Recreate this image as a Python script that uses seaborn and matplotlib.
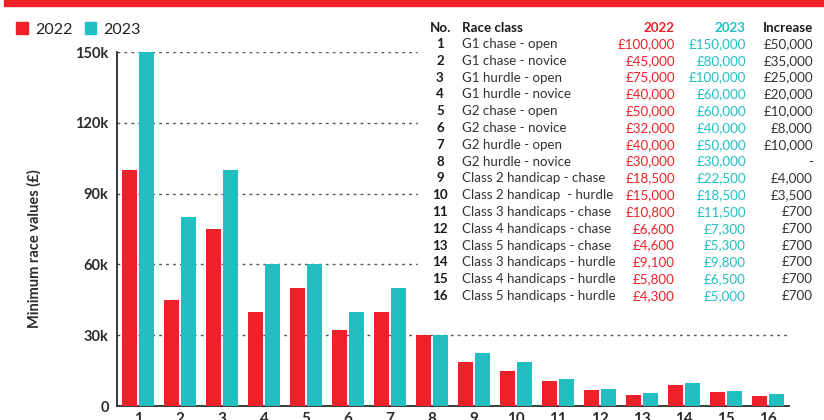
"""
Minimum race values 2022 vs 2023 - grouped bars with a lookup table.
"""
import matplotlib
matplotlib.use("Agg")
import matplotlib.pyplot as plt
import matplotlib.patches as mpatches
from matplotlib.ticker import FixedLocator, FuncFormatter
import pandas as pd
import seaborn as sns

RED = "#EE2129"
TEAL = "#22BEC2"
DARK = "#2B2B2B"

race_no = [str(i) for i in range(1, 17)]
race_class = [
    "G1 chase - open", "G1 chase - novice", "G1 hurdle - open", "G1 hurdle - novice",
    "G2 chase - open", "G2 chase - novice", "G2 hurdle - open", "G2 hurdle - novice",
    "Class 2 handicap - chase", "Class 2 handicap  - hurdle",
    "Class 3 handicaps - chase", "Class 4 handicaps - chase", "Class 5 handicaps - chase",
    "Class 3 handicaps - hurdle", "Class 4 handicaps - hurdle", "Class 5 handicaps - hurdle",
]
values_2022 = [100000, 45000, 75000, 40000, 50000, 32000, 40000, 30000,
               18500, 15000, 10800, 6600, 4600, 9100, 5800, 4300]
values_2023 = [150000, 80000, 100000, 60000, 60000, 40000, 50000, 30000,
               22500, 18500, 11500, 7300, 5300, 9800, 6500, 5000]
increase = ["£50,000", "£35,000", "£25,000", "£20,000", "£10,000", "£8,000", "£10,000", "-",
            "£4,000", "£3,500", "£700", "£700", "£700", "£700", "£700", "£700"]
y_ticks = [0, 30000, 60000, 90000, 120000, 150000]

df = pd.DataFrame({
    "no": race_no * 2,
    "value": values_2022 + values_2023,
    "year": ["2022"] * 16 + ["2023"] * 16,
})

sns.set_style("white")
plt.rcParams["font.family"] = ["Lato", "DejaVu Sans"]

fig = plt.figure(figsize=(8.24, 4.2), dpi=100)
ax = fig.add_axes([117 / 824, 14 / 420, 672 / 824, 354 / 420])

sns.barplot(data=df, x="no", y="value", hue="year", order=race_no,
            palette={"2022": RED, "2023": TEAL}, saturation=1, width=0.78, gap=0.1,
            linewidth=0, ax=ax, legend=False, zorder=3)
for p in ax.patches:
    p.set_clip_on(False)

ax.set_xlim(-0.5, 15.5)
ax.set_ylim(0, 150000)
ax.set_yticks(y_ticks)
ax.yaxis.set_major_formatter(FuncFormatter(lambda v, _: "0" if v == 0 else f"{int(v / 1000)}k"))
for t in y_ticks[1:]:
    ax.axhline(t, color="#555555", lw=1.0, ls=(0, (2, 3)), zorder=1)

for side in ["top", "right"]:
    ax.spines[side].set_visible(False)
for side in ["left", "bottom"]:
    ax.spines[side].set_color(DARK)
    ax.spines[side].set_linewidth(1.3)

ax.tick_params(axis="y", direction="out", length=4, width=1.2, color=DARK,
               labelsize=10.5, labelcolor=DARK, pad=2)
ax.tick_params(axis="x", which="major", length=0, labelsize=11, labelcolor=DARK, pad=4.5)
for lab in ax.get_yticklabels() + ax.get_xticklabels():
    lab.set_fontweight("bold")
ax.xaxis.set_minor_locator(FixedLocator([3.5, 7.5, 11.5, 15.5]))
ax.tick_params(axis="x", which="minor", direction="in", length=7, width=1.2, color=DARK)

ax.set_xlabel("")
ax.set_ylabel("Minimum race values (£)", fontsize=10.5, fontweight="bold", color=DARK)
ax.yaxis.set_label_coords(-0.112, 0.445)

# top red band
fig.patches.append(mpatches.Rectangle((4 / 824, 1 - 6 / 420), 1, 6 / 420,
                                      transform=fig.transFigure, color=RED, zorder=5))

# legend
handles = [mpatches.Patch(color=RED, label="2022"), mpatches.Patch(color=TEAL, label="2023")]
fig.legend(handles=handles, loc="upper left", bbox_to_anchor=(2 / 824, 1 - 8 / 420),
           ncol=2, frameon=False, fontsize=11.5, handlelength=0.7, handleheight=0.7,
           handletextpad=0.45, columnspacing=0.8, labelcolor="#222222")

# table on a white box
fig.patches.append(mpatches.Rectangle((418 / 824, 1 - 305 / 420), 406 / 824, 290 / 420,
                                      transform=fig.transFigure, color="white", zorder=6))
fs = 9.6


def put(x, y, s, **kw):
    fig.text(x / 824, 1 - y / 420, s, fontsize=fs, va="center", zorder=7, **kw)


head_y = 27.5
put(451, head_y, "No.", ha="right", fontweight="bold", color="#1a1a1a")
put(462, head_y, "Race class", ha="left", fontweight="bold", color="#1a1a1a")
put(675, head_y, "2022", ha="right", fontweight="bold", color=RED)
put(746, head_y, "2023", ha="right", fontweight="bold", color=TEAL)
put(813, head_y, "Increase", ha="right", fontweight="bold", color="#1a1a1a")
for i in range(16):
    y = 44 + i * 16.8
    put(440, y, race_no[i], ha="center", fontweight="bold", color="#1a1a1a")
    put(462, y, race_class[i], ha="left", color="#333333")
    put(675, y, f"£{values_2022[i]:,}", ha="right", color=RED)
    put(746, y, f"£{values_2023[i]:,}", ha="right", color=TEAL)
    put(813, y, increase[i], ha="right", color="#333333")

fig.savefig("out.png", dpi=100)
